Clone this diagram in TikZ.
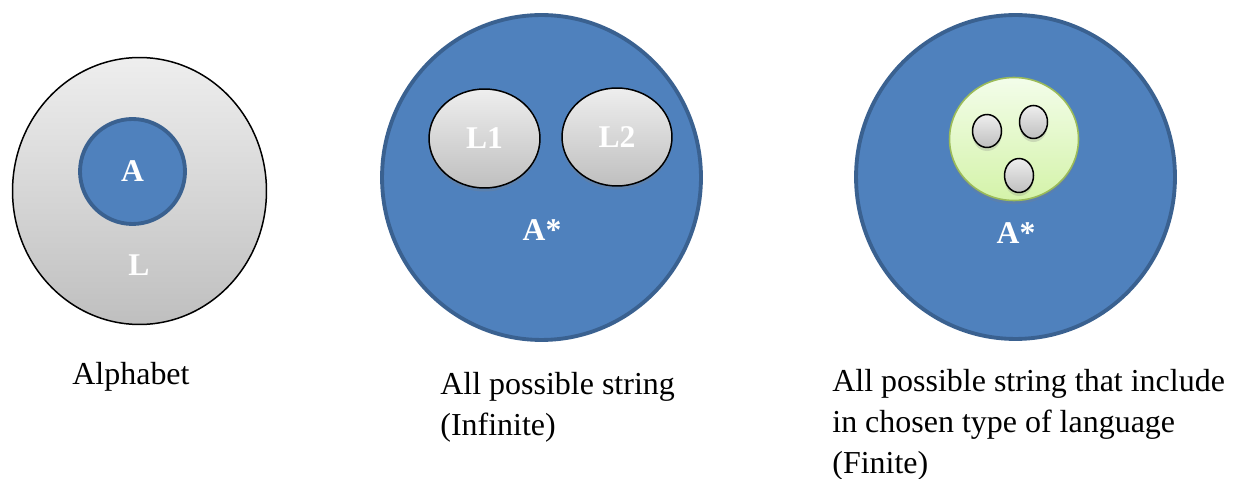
\documentclass[tikz,border=0pt]{standalone}
\usepackage{fontspec}
\setmainfont{Liberation Serif}
\usetikzlibrary{positioning, shapes.geometric, shadows}
\definecolor{setblue}{HTML}{4F81BD}
\definecolor{setedge}{HTML}{3A6190}
\definecolor{greytop}{HTML}{EEEEEE}
\definecolor{greybot}{HTML}{BFBFBF}
\definecolor{limetop}{HTML}{F3FDEA}
\definecolor{limebot}{HTML}{D4F3A9}
\definecolor{limeedge}{HTML}{9BBB59}
\tikzset{
  bigset/.style={ellipse, draw=setedge, line width=2.2pt, fill=setblue, inner sep=0pt},
  greyset/.style={ellipse, draw=black, line width=0.85pt, top color=greytop, bottom color=greybot, inner sep=0pt},
  limeset/.style={ellipse, draw=limeedge, line width=0.9pt, top color=limetop, bottom color=limebot, inner sep=0pt},
  softshadow/.style={drop shadow={opacity=0.25, shadow xshift=0pt, shadow yshift=-2pt}},
  setlabel/.style={text=white, inner sep=0pt, font=\fontsize{18}{22}\selectfont\bfseries},
  caption/.style={anchor=north west, inner sep=0pt, align=left, font=\fontsize{18.2}{23.2}\selectfont},
}

\begin{document}
\begin{tikzpicture}[x=0.02cm, y=-0.02cm]
    \useasboundingbox (0,0) rectangle (1243,479);

    % alphabet inside a language
    \node[greyset, minimum width=5.08cm, minimum height=5.34cm] (lang) at (139.5,191) {};
    \node[bigset, minimum size=2.1cm, setlabel] (alpha) at (132.5,171.5) {A};
    \node[setlabel] (langlbl) at (139,265) {L};
    \node[caption] (alphacap) at (72,362) {Alphabet};

    % all strings with two languages
    \node[bigset, minimum width=6.38cm, minimum height=6.5cm] (kleene) at (541.5,177.5) {};
    \node[greyset, softshadow, minimum width=2.22cm, minimum height=1.98cm, setlabel] (lone) at (484.5,138.5) {L1};
    \node[greyset, softshadow, minimum width=2.2cm, minimum height=1.96cm, setlabel] (ltwo) at (617,137) {L2};
    \node[setlabel] (kleenelbl) at (542,230) {A*};
    \node[caption] (kleenecap) at (440,372) {All possible string\\(Infinite)};

    % all strings with one chosen language
    \node[bigset, minimum width=6.38cm, minimum height=6.48cm] (kleenetwo) at (1015.5,177) {};
    \node[limeset, softshadow, minimum width=2.58cm, minimum height=2.46cm] (chosen) at (1014,139) {};
    \node[greyset, softshadow, minimum width=0.58cm, minimum height=0.66cm] (wa) at (987,131) {};
    \node[greyset, softshadow, minimum width=0.56cm, minimum height=0.66cm] (wb) at (1033.5,122) {};
    \node[greyset, softshadow, minimum width=0.58cm, minimum height=0.68cm] (wc) at (1019,175.5) {};
    \node[setlabel] (kleenetwolbl) at (1016,233) {A*};
    \node[caption] (chosencap) at (832,369) {All possible string that include\\in chosen type of language\\(Finite)};
\end{tikzpicture}
\end{document}
